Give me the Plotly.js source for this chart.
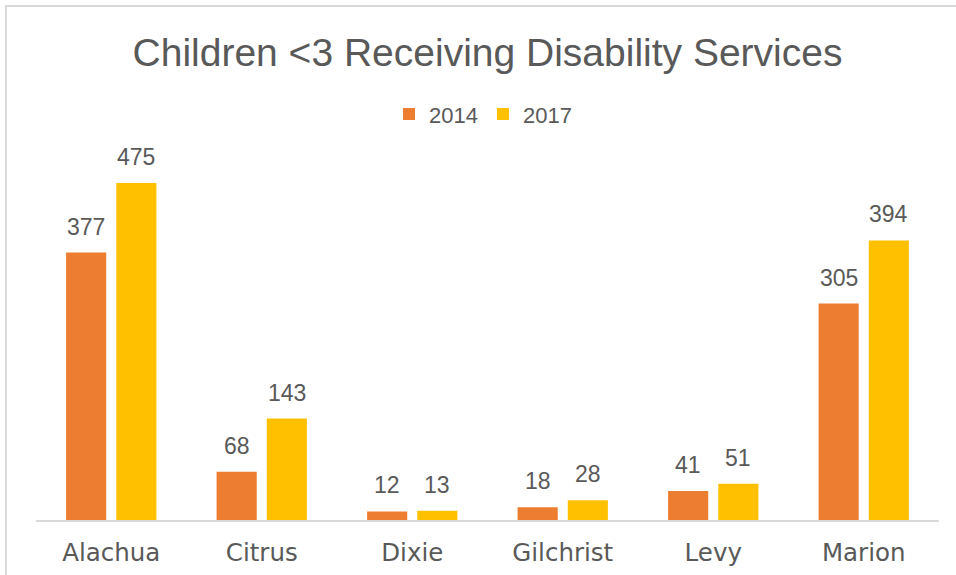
<!DOCTYPE html>
<html>
<head>
<meta charset="utf-8">
<script src="https://cdn.plot.ly/plotly-3.0.1.min.js"></script>
<style>
  html, body { margin: 0; padding: 0; background: #fff; }
  #wrap { position: relative; width: 956px; height: 575px; overflow: hidden; }
  #frame { position: absolute; left: 5px; top: 5px; width: 1000px; height: 700px;
           border-left: 2px solid #d9d9d9; border-top: 2px solid #d9d9d9; }
  #chart { position: absolute; left: 0; top: 0; width: 956px; height: 575px; }
</style>
</head>
<body>
<div id="wrap">
  <div id="frame"></div>
  <div id="chart"></div>
</div>
<script>
const categories = ["Alachua", "Citrus", "Dixie", "Gilchrist", "Levy", "Marion"];
const values2014 = [377, 68, 12, 18, 41, 305];
const values2017 = [475, 143, 13, 28, 51, 394];
const seriesNames = ["2014", "2017"];

const textColor = "#595959";
const labelFont = { family: "Liberation Sans, Arial, sans-serif", size: 23, color: textColor };

const traces = [
  { type: "bar", name: seriesNames[0], x: categories, y: values2014,
    marker: { color: "#ED7D31" }, hoverinfo: "skip" },
  { type: "bar", name: seriesNames[1], x: categories, y: values2017,
    marker: { color: "#FFC000" }, hoverinfo: "skip" }
];

const annotations = [];
[values2014, values2017].forEach((vals, si) => {
  vals.forEach((v, i) => {
    annotations.push({
      x: categories[i], y: v, xref: "x", yref: "y",
      text: String(v), showarrow: false,
      xanchor: "center", yanchor: "bottom",
      xshift: si === 0 ? -25 : 25, yshift: 11,
      font: labelFont
    });
  });
});

const layout = {
  width: 956, height: 575,
  paper_bgcolor: "rgba(0,0,0,0)", plot_bgcolor: "rgba(0,0,0,0)",
  margin: { l: 36, r: 17, t: 140, b: 55, pad: 0 },
  title: {
    text: "Children &lt;3 Receiving Disability Services",
    font: { family: "Liberation Sans, Arial, sans-serif", size: 39, color: textColor },
    x: 0.5, xanchor: "center", xref: "paper",
    y: 1 - 52 / 575, yanchor: "middle", yref: "container"
  },
  barmode: "group",
  bargap: 1 / 3,
  bargroupgap: 0.2,
  showlegend: true,
  legend: {
    orientation: "h", x: 0.495, xanchor: "center", y: 1.068, yanchor: "middle",
    font: { family: "Liberation Sans, Arial, sans-serif", size: 22, color: textColor },
    itemwidth: 30, traceorder: "normal", bgcolor: "rgba(0,0,0,0)"
  },
  xaxis: {
    type: "category",
    showline: true, linecolor: "#d9d9d9", linewidth: 2,
    ticks: "", showgrid: false, zeroline: false,
    tickfont: { family: "DejaVu Sans, sans-serif", size: 24.5, color: textColor },
    ticklabelstandoff: 10
  },
  yaxis: {
    range: [0, 535.6], visible: false, showgrid: false, zeroline: false, fixedrange: true
  },
  annotations: annotations
};

Plotly.newPlot("chart", traces, layout, { staticPlot: true, displayModeBar: false });
</script>
</body>
</html>
